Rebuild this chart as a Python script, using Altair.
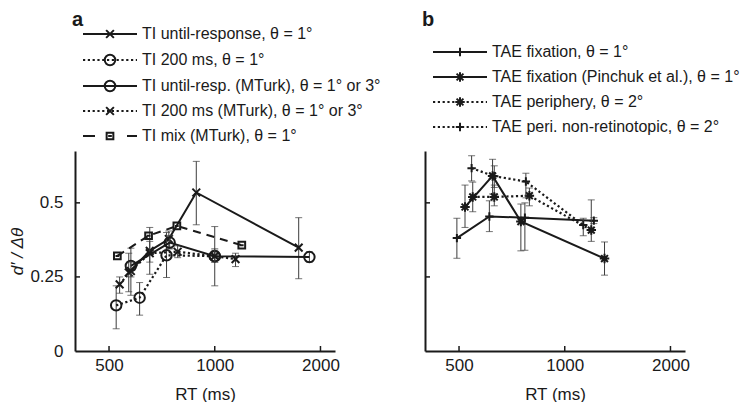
import altair as alt
import pandas as pd

FONT = "Liberation Sans"
INK = "#1a1a1a"
ERR = "#3c3c3c"

# ---------------- data : panel a ----------------
A_LABELS = [
    "TI until-response, θ = 1°",
    "TI 200 ms, θ = 1°",
    "TI until-resp. (MTurk), θ = 1° or 3°",
    "TI 200 ms (MTurk), θ = 1° or 3°",
    "TI mix (MTurk), θ = 1°",
]
a1_rt = [569, 653, 740, 886, 1734]
a1_d = [0.265, 0.338, 0.378, 0.535, 0.349]
a1_lo = [0.20, 0.30, 0.345, 0.426, 0.244]
a1_hi = [0.33, 0.37, 0.405, 0.64, 0.45]

a2_rt = [524, 611, 729, 1000]
a2_d = [0.154, 0.180, 0.323, 0.320]
a2_lo = [0.075, 0.121, 0.248, 0.300]
a2_hi = [0.220, 0.231, 0.400, 0.340]

a3_rt = [577, 744, 1000, 1860]
a3_d = [0.287, 0.366, 0.320, 0.317]
a3_lo = [0.188, 0.345, 0.220, 0.300]
a3_hi = [0.347, 0.390, 0.420, 0.335]

a4_rt = [536, 577, 653, 784, 1000, 1146]
a4_d = [0.225, 0.270, 0.330, 0.335, 0.320, 0.310]
a4_lo = [0.195, 0.250, 0.259, 0.315, 0.300, 0.285]
a4_hi = [0.250, 0.300, 0.417, 0.355, 0.345, 0.330]

a5_rt = [528, 648, 780, 1194]
a5_d = [0.321, 0.389, 0.422, 0.357]

# ---------------- data : panel b ----------------
B_LABELS = [
    "TAE fixation, θ = 1°",
    "TAE fixation (Pinchuk et al.), θ = 1°",
    "TAE periphery, θ = 2°",
    "TAE peri. non-retinotopic, θ = 2°",
]
b1_rt = [493, 610, 770, 1210]
b1_d = [0.381, 0.454, 0.450, 0.440]
b1_lo = [0.313, 0.403, 0.340, 0.430]
b1_hi = [0.448, 0.507, 0.500, 0.450]

b2_rt = [520, 623, 750, 1298]
b2_d = [0.486, 0.591, 0.437, 0.312]
b2_lo = [0.417, 0.530, 0.338, 0.256]
b2_hi = [0.560, 0.647, 0.496, 0.368]

b3_rt = [547, 630, 793, 1190]
b3_d = [0.520, 0.520, 0.524, 0.408]
b3_lo = [0.470, 0.490, 0.490, 0.370]
b3_hi = [0.570, 0.560, 0.550, 0.510]

b4_rt = [543, 630, 775, 1129]
b4_d = [0.617, 0.590, 0.572, 0.425]
b4_lo = [0.574, 0.552, 0.517, 0.389]
b4_hi = [0.659, 0.625, 0.600, 0.448]

X_TICKS = [500, 1000, 2000]
Y_TICKS = [0, 0.25, 0.5]

# ---------------- styles ----------------
X_PATH = "M-1,-1L1,1M-1,1L1,-1"
PLUS_PATH = "M0,-1L0,1M-1,0L1,0"
AST_PATH = "M0,-1L0,1M-1,0L1,0M-0.72,-0.72L0.72,0.72M-0.72,0.72L0.72,-0.72"
SQ_PATH = "M-1,-1L1,-1L1,1L-1,1ZM-0.55,0L0.55,0"
SOLID = None
DOT = [2.2, 2.6]
DASH = [8, 6]

W, H = 260, 200
XDOM = [400, 2200]
YDOM = [0, 0.675]


def frame(rt, d, lo=None, hi=None):
    df = pd.DataFrame({"rt": rt, "d": d})
    if lo is not None:
        df["lo"] = lo
        df["hi"] = hi
    return df


def build_panel(series, labels, letter, legend_y, show_ylabels):
    xscale = alt.Scale(type="log", domain=XDOM, nice=False)
    yscale = alt.Scale(domain=YDOM, nice=False, zero=False)
    xaxis = alt.Axis(values=X_TICKS, format="d", title="RT (ms)", labelFontSize=17,
                     titleFontSize=17, labelPadding=6, titlePadding=13,
                     titleFontWeight="normal")
    if show_ylabels:
        yaxis = alt.Axis(values=Y_TICKS, format=".2~f", title="d′ / Δθ", labelFontSize=17,
                         titleFontSize=17, labelPadding=12, titlePadding=3,
                         titleFontStyle="italic", titleFontWeight="normal")
    else:
        yaxis = alt.Axis(values=Y_TICKS, labels=False, title="")
    X = lambda f="rt": alt.X(f"{f}:Q", scale=xscale, axis=xaxis)
    Y = lambda f="d": alt.Y(f"{f}:Q", scale=yscale, axis=yaxis)

    layers = []
    # inward ticks
    layers.append(alt.Chart(pd.DataFrame({"rt": X_TICKS})).mark_rule(color=INK, strokeWidth=1.5)
                  .encode(x=X(), y=alt.value(H), y2=alt.value(H - 5)))
    layers.append(alt.Chart(pd.DataFrame({"d": Y_TICKS[1:]})).mark_rule(color=INK, strokeWidth=1.5)
                  .encode(y=Y(), x=alt.value(0), x2=alt.value(5)))

    for (df, dash, shape, size) in series:
        if "lo" in df.columns:
            layers.append(alt.Chart(df).mark_rule(color=ERR, strokeWidth=1)
                          .encode(x=X(), y=Y("lo"), y2="hi:Q"))
            for f in ("lo", "hi"):
                layers.append(alt.Chart(df).mark_tick(orient="horizontal", color=ERR,
                                                      thickness=1, size=7)
                              .encode(x=X(), y=Y(f)))
        lk = dict(color=INK, strokeWidth=2.2 if dash is DOT else 2)
        if dash is not None:
            lk["strokeDash"] = dash
        layers.append(alt.Chart(df).mark_line(**lk).encode(x=X(), y=Y()))
        layers.append(alt.Chart(df).mark_point(shape=shape, filled=False, color=INK,
                                               strokeWidth=2, size=size, opacity=1)
                      .encode(x=X(), y=Y()))

    # legend drawn above the plot area
    for i, (lab, (df, dash, shape, size)) in enumerate(zip(labels, series)):
        yy = legend_y[i]
        one = pd.DataFrame({"label": [lab]})
        if dash is DASH:
            rk = dict(color=INK, strokeWidth=2, strokeDash=[12, 32])
        else:
            rk = dict(color=INK, strokeWidth=2.2 if dash is DOT else 2)
            if dash is not None:
                rk["strokeDash"] = dash
        layers.append(alt.Chart(one).mark_rule(**rk)
                      .encode(x=alt.value(8), x2=alt.value(62), y=alt.value(yy)))
        layers.append(alt.Chart(one).mark_point(shape=shape, filled=False, color=INK,
                                                strokeWidth=2, size=size, opacity=1)
                      .encode(x=alt.value(35), y=alt.value(yy)))
        layers.append(alt.Chart(one).mark_text(align="left", baseline="middle", font=FONT,
                                               fontSize=16, color=INK)
                      .encode(text="label:N", x=alt.value(67), y=alt.value(yy)))

    layers.append(alt.Chart(pd.DataFrame({"label": [letter]}))
                  .mark_text(align="left", baseline="alphabetic", font=FONT, fontSize=20,
                             fontWeight="bold", color=INK)
                  .encode(text="label:N", x=alt.value(-3), y=alt.value(-125)))

    return alt.layer(*layers).properties(width=W, height=H)


series_a = [
    (frame(a1_rt, a1_d, a1_lo, a1_hi), SOLID, X_PATH, 60),
    (frame(a2_rt, a2_d, a2_lo, a2_hi), DOT, "circle", 110),
    (frame(a3_rt, a3_d, a3_lo, a3_hi), SOLID, "circle", 110),
    (frame(a4_rt, a4_d, a4_lo, a4_hi), DOT, X_PATH, 60),
    (frame(a5_rt, a5_d), DASH, SQ_PATH, 45),
]
series_b = [
    (frame(b1_rt, b1_d, b1_lo, b1_hi), SOLID, PLUS_PATH, 70),
    (frame(b2_rt, b2_d, b2_lo, b2_hi), SOLID, AST_PATH, 90),
    (frame(b3_rt, b3_d, b3_lo, b3_hi), DOT, AST_PATH, 90),
    (frame(b4_rt, b4_d, b4_lo, b4_hi), DOT, PLUS_PATH, 70),
]

panel_a = build_panel(series_a, A_LABELS, "a", [-117, -91, -65, -40, -15], True)
panel_b = build_panel(series_b, B_LABELS, "b", [-99, -74, -49, -24], False)

chart = (
    alt.hconcat(panel_a, panel_b, spacing=90, bounds="flush")
    .properties(padding={"left": 0, "top": 2, "right": 0, "bottom": 0})
    .configure_view(stroke=None)
    .configure_axis(domainColor=INK, domainWidth=2, labelFont=FONT, titleFont=FONT,
                    labelColor=INK, titleColor=INK, grid=False, ticks=False)
)

chart.save("out.html", embed_options={"renderer": "svg", "actions": False})
